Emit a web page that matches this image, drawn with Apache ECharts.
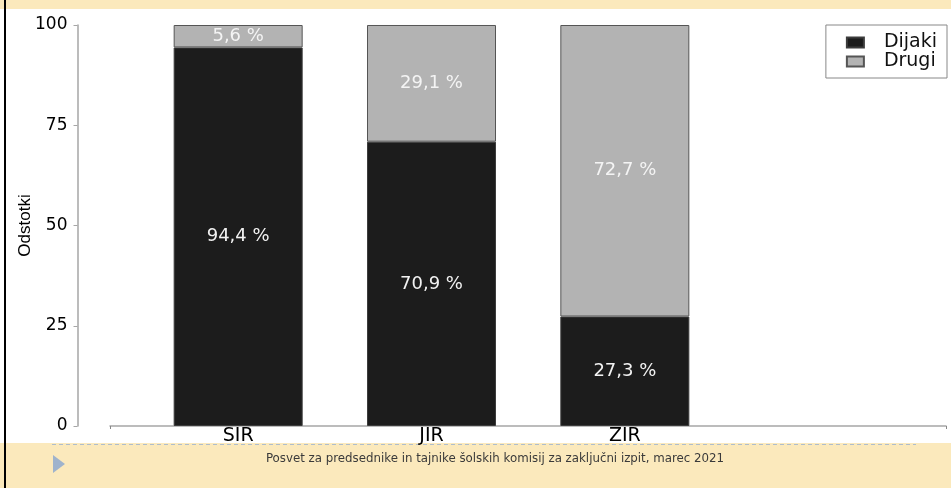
<!DOCTYPE html>
<html>
<head>
<meta charset="utf-8">
<script src="https://cdn.jsdelivr.net/npm/echarts@6/dist/echarts.min.js"></script>
<style>
  html, body { margin: 0; padding: 0; background: #fff; }
  #chart { width: 951px; height: 488px; }
</style>
</head>
<body>
<div id="chart"></div>
<script>
const categories = ["SIR", "JIR", "ZIR"];
const dijaki = [94.4, 70.9, 27.3];
const drugi = [5.6, 29.1, 72.7];
const yTicks = [0, 25, 50, 75, 100];
const footerText = "Posvet za predsednike in tajnike šolskih komisij za zaključni izpit, marec 2021";

const chart = echarts.init(document.getElementById("chart"));

const fmt = (p) => p.value.toFixed(1).replace(".", ",") + " %";
const font = "DejaVu Sans";

const option = {
  animation: false,
  backgroundColor: "#fff",
  textStyle: { fontFamily: font },
  grid: [
    { left: 141.5, width: 580, top: 25, bottom: 62, outerBoundsMode: "none" },
    { left: 110, right: 5, top: 25, bottom: 62, outerBoundsMode: "none" },
  ],
  legend: {
    data: ["Dijaki", "Drugi"],
    orient: "vertical",
    right: 4,
    top: 25,
    icon: "rect",
    itemWidth: 17,
    itemHeight: 10,
    itemGap: 0,
    padding: [8, 10, 7, 20],
    borderColor: "#888",
    borderWidth: 1,
    textStyle: { fontSize: 19, color: "#111", padding: [0, 0, 0, 15] },
  },
  xAxis: [
    {
      type: "category",
      data: categories,
      gridIndex: 0,
      axisLine: { show: false },
      axisTick: { show: false },
      axisLabel: { color: "#000", fontSize: 19, margin: 1 },
    },
    {
      type: "value",
      gridIndex: 1,
      min: 0,
      max: 1,
      interval: 1,
      axisLine: { show: true, lineStyle: { color: "#a6a6a6", width: 1.5 } },
      axisTick: { show: true, length: 3, lineStyle: { color: "#888" } },
      axisLabel: { show: false },
      splitLine: { show: false },
    },
  ],
  yAxis: [
    {
      type: "value",
      gridIndex: 0,
      min: 0,
      max: 100,
      interval: 25,
      offset: 64,
      name: "Odstotki",
      nameLocation: "middle",
      nameRotate: 90,
      nameGap: 44,
      nameMoveOverlap: false,
      nameTextStyle: { fontFamily: "Liberation Sans", fontSize: 17, color: "#000" },
      axisLine: { show: true, lineStyle: { color: "#a6a6a6", width: 1.5 } },
      axisTick: { show: true, length: 4, lineStyle: { color: "#a6a6a6" } },
      axisLabel: {
        color: "#000",
        fontSize: 17,
        margin: 10,
        formatter: (v) => (yTicks.includes(v) ? String(v) : ""),
      },
      splitLine: { show: false },
    },
    { type: "value", gridIndex: 1, show: false, min: 0, max: 100 },
  ],
  series: [
    {
      name: "Dijaki",
      type: "bar",
      stack: "total",
      data: dijaki,
      barWidth: 129,
      itemStyle: { color: "#1c1c1c", borderColor: "#3c3c3c", borderWidth: 1 },
      label: { show: true, position: "inside", color: "#f2f2f2", fontSize: 18, formatter: fmt },
    },
    {
      name: "Drugi",
      type: "bar",
      stack: "total",
      data: drugi,
      barWidth: 129,
      itemStyle: { color: "#b3b3b3", borderColor: "#555", borderWidth: 1 },
      label: { show: true, position: "inside", color: "#f4f4f4", fontSize: 18, formatter: fmt },
    },
  ],
  graphic: [
    { type: "rect", shape: { x: 0, y: 0, width: 951, height: 9 }, style: { fill: "#fbe9bc" }, z: -1 },
    { type: "rect", shape: { x: 0, y: 443, width: 951, height: 45 }, style: { fill: "#fbe9bc" }, z: -1 },
    {
      type: "line",
      shape: { x1: 52, y1: 444.5, x2: 916, y2: 444.5 },
      style: { stroke: "#aebdcc", lineWidth: 1, lineDash: [4, 3] },
    },
    {
      type: "polygon",
      shape: { points: [[53, 455], [65, 464], [53, 473]] },
      style: { fill: "#9fb3cc" },
    },
    {
      type: "text",
      x: 495,
      y: 459,
      style: {
        text: footerText,
        fontFamily: font,
        fontSize: 11.8,
        fill: "#3a3a3a",
        align: "center",
        verticalAlign: "middle",
      },
    },
    { type: "rect", shape: { x: 4, y: 0, width: 2, height: 488 }, style: { fill: "#000" }, z: 10 },
  ],
};

chart.setOption(option);
</script>
</body>
</html>
